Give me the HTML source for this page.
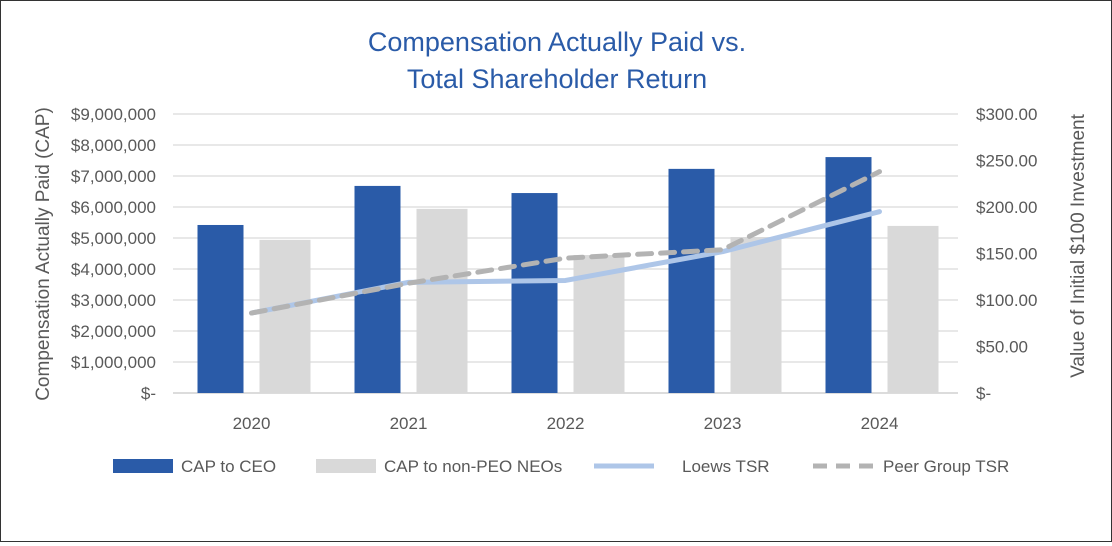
<!DOCTYPE html>
<html><head><meta charset="utf-8"><style>
body{margin:0;background:#fff;font-family:"Liberation Sans",sans-serif;}
#wrap{position:relative;width:1112px;height:542px;box-sizing:border-box;border:1px solid #333;}
</style></head><body>
<div id="wrap">
<svg id="chart" width="1110" height="540" xmlns="http://www.w3.org/2000/svg"></svg>
</div>
<script>
const categories=["2020","2021","2022","2023","2024"];
const ceoCap=[5420000,6680000,6450000,7230000,7610000];
const neoCap=[4940000,5940000,4450000,5030000,5390000];
const loewsTsr=[86,119,121,152,195];
const peerTsr=[86,118,145,154,238];
const leftTicks=[0,1000000,2000000,3000000,4000000,5000000,6000000,7000000,8000000,9000000];
const rightTicks=[0,50,100,150,200,250,300];
const NS="http://www.w3.org/2000/svg";
const svg=document.getElementById('chart');
const X0=172,X1=957,Y0=392,Y1=113;
const cw=(X1-X0)/categories.length;
const yL=v=>Y0-(v/9000000)*(Y0-Y1);
const yR=v=>Y0-(v/300)*(Y0-Y1);
const xc=i=>X0+cw*(i+0.5);
function el(t,a,txt){const e=document.createElementNS(NS,t);for(const k in a)e.setAttribute(k,a[k]);if(txt!=null)e.textContent=txt;svg.appendChild(e);return e;}
function fmtL(v){return v===0?"$-":"$"+v.toLocaleString("en-US");}
function fmtR(v){return v===0?"$-":"$"+v.toFixed(2);}
// title
let t=el('text',{x:556,y:50,'text-anchor':'middle','font-size':27,fill:'#2a5ba8','textLength':0});
t.removeAttribute('textLength');t.textContent="Compensation Actually Paid vs.";


t=el('text',{x:556,y:87,'text-anchor':'middle','font-size':27,fill:'#2a5ba8'},"Total Shareholder Return");


// grid + ticks
leftTicks.forEach(v=>{
 const g=el('line',{x1:X0,x2:X1,y1:yL(v),y2:yL(v),stroke:v===0?'#d0d0d0':'#e0e0e0','stroke-width':1.5});
 
 
 const l=el('text',{x:155,y:yL(v)+6,'text-anchor':'end','font-size':17,fill:'#595959'},fmtL(v));
 
 
});
rightTicks.forEach(v=>{
 const l=el('text',{x:975,y:yR(v)+6,'text-anchor':'start','font-size':17,fill:'#595959'},fmtR(v));
 
 
});
// bars
const bw=46,gap=16;
categories.forEach((c,i)=>{
 const cx=xc(i);
 let b=el('rect',{x:cx-gap/2-bw,y:yL(ceoCap[i]),width:bw,height:Y0-yL(ceoCap[i]),fill:'#2a5ba8'});
 
 
 b=el('rect',{x:cx+gap/2,y:yL(neoCap[i]),width:bw+5,height:Y0-yL(neoCap[i]),fill:'#d9d9d9'});
 
 
 const l=el('text',{x:cx,y:428,'text-anchor':'middle','font-size':17,fill:'#595959'},c);
 
 
});
// lines
let p=el('polyline',{points:loewsTsr.map((v,i)=>xc(i)+','+yR(v)).join(' '),fill:'none',stroke:'#aec6e8','stroke-width':5,'stroke-linejoin':'round','stroke-linecap':'round'});


p=el('polyline',{points:peerTsr.map((v,i)=>xc(i)+','+yR(v)).join(' '),fill:'none',stroke:'#b3b3b3','stroke-width':5,'stroke-dasharray':'14 9','stroke-linecap':'round'});


// axis titles
t=el('text',{x:0,y:0,'text-anchor':'middle','font-size':19,fill:'#595959',transform:'translate(48,253) rotate(-90)'},"Compensation Actually Paid (CAP)");


t=el('text',{x:0,y:0,'text-anchor':'middle','font-size':19,fill:'#595959',transform:'translate(1083,245) rotate(-90)'},"Value of Initial $100 Investment");


// legend
const leg=[["CAP to CEO","bar","#2a5ba8",112,180],["CAP to non-PEO NEOs","bar","#d9d9d9",315,383],["Loews TSR","line","#aec6e8",593,681],["Peer Group TSR","dash","#b3b3b3",812,882]];
leg.forEach(([n,k,c,x,tx])=>{
 let m;
 if(k==='bar')m=el('rect',{x:x,y:458,width:60,height:14,fill:c});
 else m=el('line',{x1:x,x2:x+60,y1:465,y2:465,stroke:c,'stroke-width':5,'stroke-dasharray':k==='dash'?'14 9':'none'});
 
 
 const l=el('text',{x:tx,y:471,'font-size':17,fill:'#595959'},n);
 
 
});
</script>
</body></html>
